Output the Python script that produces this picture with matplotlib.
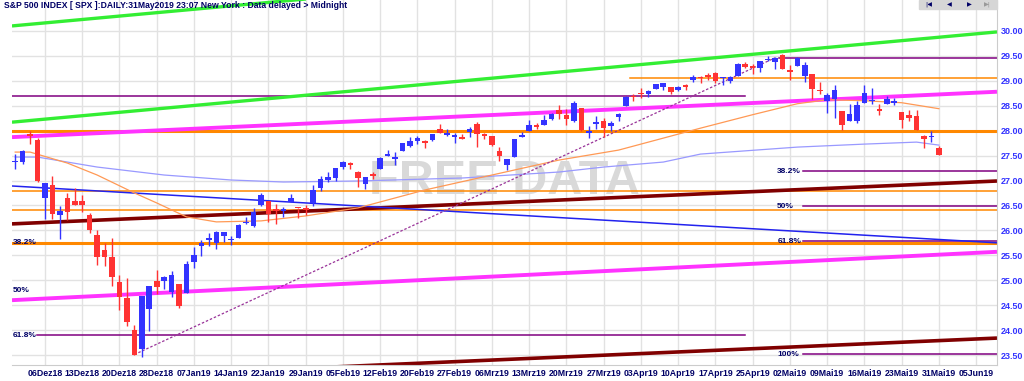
import matplotlib
matplotlib.use('Agg')
import matplotlib.pyplot as plt
import numpy as np
from matplotlib.patches import Rectangle

plt.rcParams['font.family'] = ['Liberation Sans', 'DejaVu Sans']

#------------------------------------------------------------------------------
# S&P 500 daily candles, price / 100, first candle = 29Nov18 (index -4)
#------------------------------------------------------------------------------
opens = [27.37, 27.38, 27.91, 27.82, 26.64, 26.91, 26.31, 26.64, 26.58, 26.59,
         26.30, 25.91, 25.60, 25.47, 24.97, 24.65, 24.01, 23.63, 24.43, 24.99,
         24.99, 24.77, 24.92, 24.74, 25.36, 25.68, 25.80, 25.74, 25.88, 25.80,
         25.85, 26.15, 26.09, 26.51, 26.58, 26.43, 26.39, 26.57, 26.45, 26.45,
         26.54, 26.85, 27.02, 27.06, 27.28, 27.35, 27.18, 26.92, 27.12, 27.23,
         27.50, 27.44, 27.60, 27.69, 27.79, 27.80, 27.81, 28.04, 27.92, 27.88,
         27.88, 27.98, 28.14, 27.94, 27.90, 27.60, 27.31, 27.48, 27.87, 28.00,
         28.10, 28.11, 28.23, 28.41, 28.31, 28.20, 28.45, 27.96, 28.13, 28.20,
         28.09, 28.28, 28.49, 28.68, 28.76, 28.74, 28.84, 28.88, 28.87, 28.81,
         28.92, 29.01, 29.08, 29.12, 29.16, 29.05, 28.99, 29.10, 29.34, 29.29,
         29.26, 29.41, 29.37, 29.52, 29.22, 29.29, 29.09, 29.13, 28.80, 28.60,
         28.63, 28.40, 28.20, 28.20, 28.56, 28.59, 28.42, 28.54, 28.56, 28.37,
         28.32, 28.30, 27.90, 27.87, 27.66]
highs = [27.54, 27.61, 28.00, 27.86, 26.96, 27.09, 26.48, 26.74, 26.85, 26.70,
         26.35, 26.01, 25.74, 25.85, 25.10, 25.04, 24.10, 24.68, 24.89, 25.20,
         25.09, 25.19, 24.93, 25.38, 25.66, 25.80, 25.95, 25.98, 25.96, 25.89,
         26.13, 26.26, 26.45, 26.75, 26.58, 26.53, 26.47, 26.72, 26.45, 26.51,
         26.90, 27.09, 27.17, 27.25, 27.39, 27.38, 27.19, 27.08, 27.18, 27.48,
         27.62, 27.58, 27.76, 27.87, 27.90, 27.82, 27.94, 28.13, 28.03, 27.96,
         27.94, 28.08, 28.17, 27.96, 27.90, 27.67, 27.44, 27.84, 27.98, 28.21,
         28.15, 28.31, 28.35, 28.52, 28.44, 28.60, 28.46, 28.10, 28.30, 28.26,
         28.20, 28.36, 28.69, 28.73, 28.85, 28.81, 28.93, 28.96, 28.87, 28.90,
         28.93, 29.11, 29.10, 29.16, 29.18, 29.08, 29.10, 29.36, 29.37, 29.33,
         29.40, 29.50, 29.48, 29.54, 29.32, 29.48, 29.37, 29.13, 28.98, 28.76,
         28.91, 28.40, 28.53, 28.59, 28.92, 28.85, 28.54, 28.69, 28.65, 28.37,
         28.41, 28.41, 27.92, 27.99, 27.69]
lows = [27.23, 27.33, 27.73, 26.97, 26.22, 26.23, 25.83, 26.21, 26.50, 26.37,
        25.94, 25.31, 25.29, 24.89, 24.41, 24.09, 23.51, 23.47, 23.98, 24.73,
        24.83, 24.67, 24.44, 24.74, 25.25, 25.48, 25.69, 25.62, 25.77, 25.70,
        25.85, 26.13, 26.06, 26.48, 26.17, 26.13, 26.27, 26.57, 26.24, 26.31,
        26.48, 26.79, 26.97, 26.99, 27.24, 27.24, 26.87, 26.82, 27.04, 27.23,
        27.49, 27.31, 27.60, 27.67, 27.74, 27.65, 27.79, 27.95, 27.89, 27.75,
        27.83, 27.87, 27.68, 27.83, 27.69, 27.39, 27.22, 27.48, 27.87, 28.00,
        28.03, 28.11, 28.22, 28.23, 28.12, 28.17, 28.00, 27.85, 28.04, 27.88,
        27.99, 28.19, 28.49, 28.59, 28.65, 28.67, 28.83, 28.81, 28.73, 28.79,
        28.82, 28.98, 28.96, 29.01, 28.95, 28.92, 28.96, 29.09, 29.26, 29.13,
        29.18, 29.39, 29.24, 29.23, 29.01, 29.29, 28.98, 28.63, 28.73, 28.36,
        28.25, 28.01, 28.20, 28.15, 28.56, 28.54, 28.31, 28.54, 28.51, 28.05,
        28.20, 28.02, 27.66, 27.77, 27.51]
closes = [27.38, 27.60, 27.90, 27.00, 26.96, 26.33, 26.38, 26.37, 26.51, 26.51,
          26.00, 25.46, 25.46, 25.07, 24.67, 24.17, 23.51, 24.68, 24.89, 24.86,
          25.07, 25.10, 24.48, 25.32, 25.50, 25.74, 25.85, 25.97, 25.96, 25.83,
          26.10, 26.16, 26.36, 26.71, 26.33, 26.39, 26.42, 26.65, 26.44, 26.40,
          26.81, 27.04, 27.07, 27.25, 27.38, 27.32, 27.06, 27.08, 27.10, 27.45,
          27.53, 27.46, 27.76, 27.80, 27.85, 27.75, 27.93, 27.96, 27.94, 27.92,
          27.84, 28.04, 27.93, 27.90, 27.71, 27.49, 27.43, 27.83, 27.92, 28.11,
          28.08, 28.22, 28.33, 28.33, 28.24, 28.55, 28.01, 27.98, 28.18, 28.05,
          28.15, 28.34, 28.67, 28.67, 28.73, 28.79, 28.93, 28.96, 28.78, 28.88,
          28.88, 29.07, 29.06, 29.07, 29.00, 29.05, 29.08, 29.34, 29.27, 29.26,
          29.40, 29.43, 29.46, 29.24, 29.18, 29.46, 29.32, 28.84, 28.79, 28.71,
          28.81, 28.12, 28.34, 28.51, 28.76, 28.60, 28.40, 28.64, 28.56, 28.22,
          28.26, 28.02, 27.83, 27.89, 27.52]
first_day = -4

# x axis: one label every 5 trading days, 06Dez18 = day 0
date_labels = ['06Dez18', '13Dez18', '20Dez18', '28Dez18', '07Jan19', '14Jan19',
               '22Jan19', '29Jan19', '05Feb19', '12Feb19', '20Feb19', '27Feb19',
               '06Mrz19', '13Mrz19', '20Mrz19', '27Mrz19', '03Apr19', '10Apr19',
               '17Apr19', '25Apr19', '02Mai19', '09Mai19', '16Mai19', '23Mai19',
               '31Mai19', '05Jun19']
price_ticks = [23.5, 24.0, 24.5, 25.0, 25.5, 26.0, 26.5, 27.0, 27.5, 28.0,
               28.5, 29.0, 29.5, 30.0]

# moving averages
ma_fast_day = [-4, -2, 3, 7, 12, 15, 19, 23, 29, 35, 42, 51, 60, 69, 77, 81,
               88, 95, 101, 105, 110, 115, 120]
ma_fast_val = [27.57, 27.57, 27.35, 27.11, 26.75, 26.55, 26.27, 26.17, 26.19,
               26.29, 26.45, 26.81, 27.11, 27.41, 27.61, 27.77, 28.05, 28.32,
               28.54, 28.62, 28.60, 28.56, 28.44]
ma_slow_day = [-4, -1, 7, 16, 25, 32, 42, 56, 69, 75, 83, 88, 101, 110, 117, 120]
ma_slow_val = [27.47, 27.47, 27.27, 27.11, 27.01, 26.97, 26.99, 27.05, 27.17,
               27.27, 27.37, 27.53, 27.67, 27.73, 27.77, 27.71]

# drawn trend lines: (day, price) start / end
XMIN, XMAX = -4.43, 127.8
green_hi = [(XMIN, 30.10), (XMAX, 31.91)]
green_lo = [(XMIN, 28.17), (XMAX, 29.98)]
magenta_hi = [(XMIN, 27.87), (XMAX, 28.78)]
magenta_lo = [(XMIN, 24.60), (XMAX, 25.57)]
maroon_hi = [(XMIN, 26.13), (XMAX, 26.99)]
maroon_lo = [(XMIN, 22.98), (XMAX, 23.84)]
blue_line = [(XMIN, 26.89), (XMAX, 25.75)]
dotted_up = [(12, 23.51), (98, 29.46)]

# horizontal levels: price, start day, end day
orange_thick = [(28.00, XMIN, XMAX), (25.75, XMIN, XMAX)]
orange_thin = [(26.79, XMIN, XMAX), (26.41, XMIN, XMAX), (29.06, 78.5, XMAX)]
purple_lvls = [(28.70, XMIN, 94), (23.90, -1.1, 94), (29.46, 98.6, XMAX),
               (27.19, 101.7, XMAX), (26.48, 101.7, XMAX), (25.78, 101.7, XMAX),
               (23.52, 101.7, XMAX)]
fib_left = [('38.2%', 25.75), ('50%', 24.79), ('61.8%', 23.90)]
fib_right = [('38.2%', 27.19), ('50%', 26.48), ('61.8%', 25.78), ('100%', 23.52)]

#------------------------------------------------------------------------------
def seg(ax, pts, color, lw, ls='-', z=2):
    ax.plot([p[0] for p in pts], [p[1] for p in pts], color=color, lw=lw, ls=ls,
            zorder=z, solid_capstyle='butt')


def plotCandles(ax, o, h, l, c, start, width=0.75):
    days = np.arange(start, start + len(o))
    for d, op, hi, lo, cl in zip(days, o, h, l, c):
        col = '#3333ff' if cl >= op else '#ff3333'
        ax.vlines(d, lo, hi, color=col, lw=1, zorder=5)
        body = max(abs(cl - op), 0.025)
        ax.bar(d, body, bottom=min(op, cl), width=width, color=col, lw=0, zorder=6)


#------------------------------------------------------------------------------
fig = plt.figure(figsize=(10.24, 3.81), dpi=100)
# plot area runs from the very top of the picture down to the date row
ax = fig.add_axes([12/1024, 16/381, 985/1024, 365/381])
ax.set_xlim(XMIN, XMAX)
ax.set_ylim(23.30, 30.62)

# grid
for t in price_ticks:
    ax.axhline(t, color='#e2e2e2', lw=1, zorder=0)
for k in range(len(date_labels)):
    ax.axvline(k*5, color='#e2e2e2', lw=1, zorder=0)

# watermark
ax.text(61.7, 26.99, 'FREE DATA', fontsize=35, fontweight='bold', color='#d9d9d9',
        ha='center', va='center', zorder=1)

# levels
for p, a, b in orange_thick:
    ax.plot([a, b], [p, p], color='#ff8800', lw=2.2, zorder=2)
for p, a, b in orange_thin:
    ax.plot([a, b], [p, p], color='#ff8800', lw=1.1, zorder=2)
for p, a, b in purple_lvls:
    ax.plot([a, b], [p, p], color='#800080', lw=1.1, zorder=2)

# moving averages
ax.plot(ma_slow_day, ma_slow_val, color='#9999ff', lw=0.9, zorder=3)
ax.plot(ma_fast_day, ma_fast_val, color='#ff9955', lw=0.9, zorder=3)

# trend lines
seg(ax, green_hi, '#33ee33', 2.4)
seg(ax, green_lo, '#33ee33', 2.4)
seg(ax, magenta_hi, '#ff33ff', 2.8)
seg(ax, magenta_lo, '#ff33ff', 2.8)
seg(ax, maroon_hi, '#800000', 2.6)
seg(ax, maroon_lo, '#800000', 2.6)
seg(ax, blue_line, '#2222ee', 1.1)
seg(ax, dotted_up, '#993399', 0.9, ls=(0, (2, 1.5)), z=3)

plotCandles(ax, opens, highs, lows, closes, first_day)

# fibonacci labels
for txt, p in fib_left:
    ax.text(XMIN + 0.1, p, txt, fontsize=6, fontweight='bold', color='#000066',
            ha='left', va='center', zorder=7)
for txt, p in fib_right:
    ax.text(98.3, p, txt, fontsize=6, fontweight='bold', color='#000066',
            ha='left', va='center', zorder=7)

# axes styling
ax.set_xticks([k*5 for k in range(len(date_labels))])
ax.set_xticklabels(date_labels, fontsize=6.3, fontweight='bold', color='#000066')
ax.yaxis.tick_right()
ax.set_yticks(price_ticks)
ax.set_yticklabels(['%.2f' % t for t in price_ticks], fontsize=6.5,
                   fontweight='bold', color='#3333ff')
ax.tick_params(axis='both', length=0, pad=3)
for s in ['bottom', 'right']:
    ax.spines[s].set_color('#cccccc')
ax.spines['left'].set_visible(False)
ax.spines['top'].set_visible(False)

# title and navigation buttons
fig.text(4/1024, 1 - 6/381, 'S&P 500 INDEX [ SPX ]:DAILY:31May2019 23:07 New York : Data delayed > Midnight',
         fontsize=6.2, fontweight='bold', color='#000066', ha='left', va='center')
fig.patches.append(Rectangle((919/1024, 1 - 9/381), 78/1024, 9/381,
                             transform=fig.transFigure, color='#d6d6d6', zorder=4))
for xp, sym, col in [(929, '|◀', '#000066'), (949, '◀', '#000066'),
                     (969, '▶', '#000066'), (987, '▶|', '#999999')]:
    fig.text(xp/1024, 1 - 4.5/381, sym, fontsize=4.5, color=col, ha='center',
             va='center', family=['DejaVu Sans'], zorder=5)

fig.savefig('out.png', dpi=100)
